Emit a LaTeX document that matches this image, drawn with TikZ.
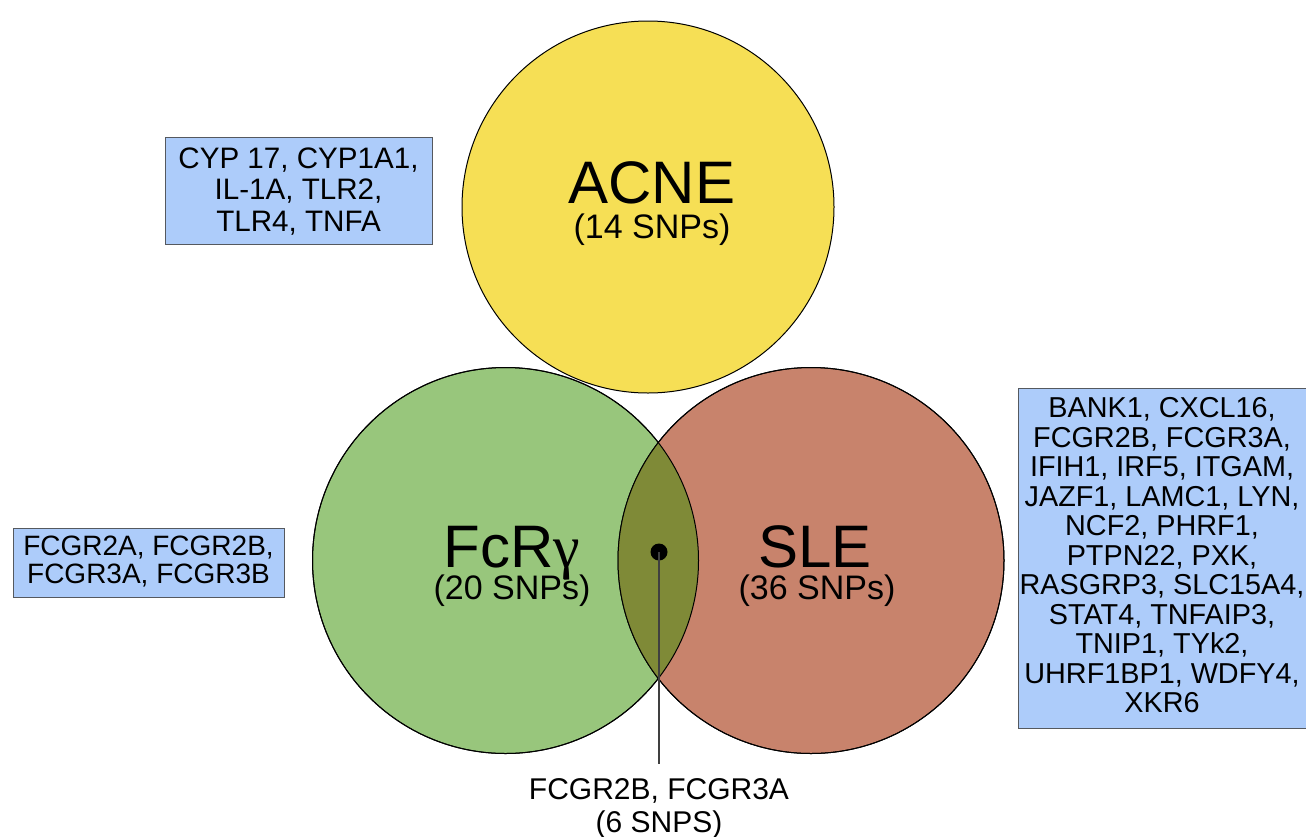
\documentclass[tikz,border=0pt]{standalone}
\usepackage{fontspec}
\setmainfont{Liberation Sans}
\newfontfamily\gammafont{Liberation Serif}
\definecolor{acneY}{HTML}{F6DF55}
\definecolor{fcrG}{HTML}{98C67C}
\definecolor{sleR}{HTML}{C8836C}
\definecolor{lensO}{HTML}{7F8A37}
\definecolor{boxB}{HTML}{ADCCFA}
\definecolor{boxE}{HTML}{55595F}
\tikzset{
  setcirc/.style={circle, draw=black, line width=1pt, inner sep=0pt},
  genebox/.style={rectangle, draw=boxE, fill=boxB, line width=1pt, inner sep=0pt},
  genetext/.style={anchor=north, inner sep=0pt, align=center},
  bigname/.style={anchor=base, inner sep=0pt, font=\fontsize{60}{60}\selectfont},
  snpcount/.style={anchor=base, inner sep=0pt, font=\fontsize{34}{34}\selectfont},
}
\begin{document}
\begin{tikzpicture}[x=1pt,y=-1pt]
\useasboundingbox (0,0) rectangle (1306,836);
% circles
\node[setcirc, fill=acneY, minimum size=372pt] (acne) at (648,207) {};
\node[setcirc, fill=fcrG, minimum size=386pt] (fcr) at (505.5,560.5) {};
\node[setcirc, fill=sleR, minimum size=386pt] (sle) at (811,560.5) {};
\begin{scope}
  \clip (fcr.center) circle[radius=193pt];
  \fill[lensO] (sle.center) circle[radius=193pt];
\end{scope}
\draw[line width=1pt] (fcr.center) circle[radius=193pt];
\draw[line width=1pt] (sle.center) circle[radius=193pt];
% labels in circles
\node[bigname] (acneT) at (652,203) {ACNE};
\node[snpcount] (acneS) at (652,238) {(14 SNPs)};
\node[bigname] (fcrT) at (512,567) {FcR{\gammafont γ}};
\node[snpcount] (fcrS) at (512,599) {(20 SNPs)};
\node[bigname] (sleT) at (815,567) {SLE};
\node[snpcount] (sleS) at (817,599) {(36 SNPs)};
% intersection marker
\node[circle, fill=black, inner sep=0pt, minimum size=17pt] (dot) at (659,552) {};
\coordinate (lineEnd) at (659,764);
\draw[line width=1.2pt, black!75] (dot.center) -- (lineEnd);
\node[anchor=north, inner sep=0pt, align=center, font=\fontsize{30}{33}\selectfont] (common) at (659,778) {FCGR2B, FCGR3A\\(6 SNPS)};
% gene boxes
\node[genebox, minimum width=267pt, minimum height=107pt] (boxAcne) at (298.5,190.5) {};
\node[genetext, font=\fontsize{29.6}{31.5}\selectfont] (acneGenes) at (298.5,147.5) {CYP 17, CYP1A1,\\IL-1A, TLR2,\\TLR4, TNFA};
\node[genebox, minimum width=271pt, minimum height=69pt] (boxFcr) at (148.5,562.5) {};
\node[genetext, font=\fontsize{28}{28}\selectfont] (fcrGenes) at (148.5,535.5) {FCGR2A, FCGR2B,\\FCGR3A, FCGR3B};
\node[genebox, minimum width=289pt, minimum height=340pt] (boxSle) at (1162.5,558) {};
\node[genetext, font=\fontsize{28.8}{29.5}\selectfont] (sleGenes) at (1162,397.5) {BANK1, CXCL16,\\FCGR2B, FCGR3A,\\IFIH1, IRF5, ITGAM,\\JAZF1, LAMC1, LYN,\\NCF2, PHRF1,\\PTPN22, PXK,\\RASGRP3, SLC15A4,\\STAT4, TNFAIP3,\\TNIP1, TYk2,\\UHRF1BP1, WDFY4,\\XKR6};
\end{tikzpicture}
\end{document}
